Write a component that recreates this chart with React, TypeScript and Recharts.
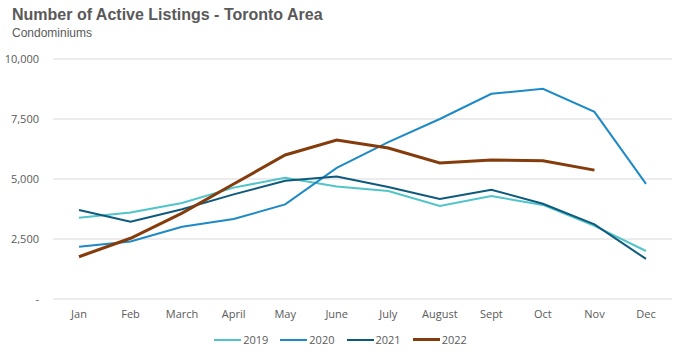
import React from 'react';
import { LineChart, Line, XAxis, YAxis, CartesianGrid } from 'recharts';

const months = ['Jan', 'Feb', 'March', 'April', 'May', 'June', 'July', 'August', 'Sept', 'Oct', 'Nov', 'Dec'];
const y2019 = [3390, 3600, 4000, 4640, 5050, 4690, 4500, 3880, 4290, 3920, 3050, 2000];
const y2020 = [2180, 2400, 3010, 3330, 3940, 5460, 6540, 7500, 8550, 8760, 7800, 4800];
const y2021 = [3710, 3220, 3740, 4360, 4930, 5100, 4670, 4170, 4550, 3970, 3110, 1670];
const y2022: (number | null)[] = [1760, 2530, 3580, 4790, 6000, 6620, 6290, 5670, 5790, 5760, 5370, null];
const yTicks = [0, 2500, 5000, 7500, 10000];

const series = [
  { key: '2019', color: '#4fc4c9', width: 2 },
  { key: '2020', color: '#1d8ac6', width: 2 },
  { key: '2021', color: '#0d5a7c', width: 2 },
  { key: '2022', color: '#843c0c', width: 3 },
];

const data = months.map((m, i) => ({
  month: m,
  '2019': y2019[i],
  '2020': y2020[i],
  '2021': y2021[i],
  '2022': y2022[i],
}));

const fmtY = (v: number) => (v === 0 ? '-' : v.toLocaleString('en-US'));

const font = '"Open Sans", "Liberation Sans", Arial, sans-serif';

export default function App() {
  return (
    <div style={{ position: 'absolute', left: 0, top: 0, width: 681, height: 359, background: '#fff' }}>
      <div style={{ position: 'absolute', left: 12, top: 5, fontFamily: '"Liberation Sans", Arial, sans-serif', color: '#595959' }}>
        <div style={{ fontSize: 16, fontWeight: 'bold', lineHeight: '20px' }}>Number of Active Listings - Toronto Area</div>
        <div style={{ fontSize: 12, lineHeight: '16px', marginTop: 0 }}>Condominiums</div>
      </div>
      <LineChart width={681} height={359} data={data} margin={{ top: 59, right: 9, bottom: 30, left: 0 }}>
        <CartesianGrid vertical={false} stroke="#d9d9d9" />
        <XAxis
          dataKey="month"
          height={30}
          axisLine={false}
          tickLine={false}
          padding={{ left: 26, right: 26 }}
          tick={{ fill: '#595959', fontSize: 11, fontFamily: font }}
          dy={3}
        />
        <YAxis
          width={53}
          domain={[0, 10000]}
          ticks={yTicks}
          tickFormatter={fmtY}
          axisLine={false}
          tickLine={false}
          tick={{ fill: '#595959', fontSize: 11, fontFamily: font }}
          dx={-6}
        />
        {series.map((s) => (
          <Line
            key={s.key}
            type="linear"
            dataKey={s.key}
            stroke={s.color}
            strokeWidth={s.width}
            dot={false}
            isAnimationActive={false}
          />
        ))}
      </LineChart>
      <div
        style={{
          position: 'absolute',
          left: 0,
          top: 332,
          width: 681,
          display: 'flex',
          justifyContent: 'center',
          gap: 12,
          fontFamily: font,
          fontSize: 11,
          color: '#595959',
        }}
      >
        {series.map((s) => (
          <div key={s.key} style={{ display: 'flex', alignItems: 'center' }}>
            <span style={{ display: 'inline-block', width: 27, height: s.width, background: s.color, marginRight: 2 }} />
            <span>{s.key}</span>
          </div>
        ))}
      </div>
    </div>
  );
}
